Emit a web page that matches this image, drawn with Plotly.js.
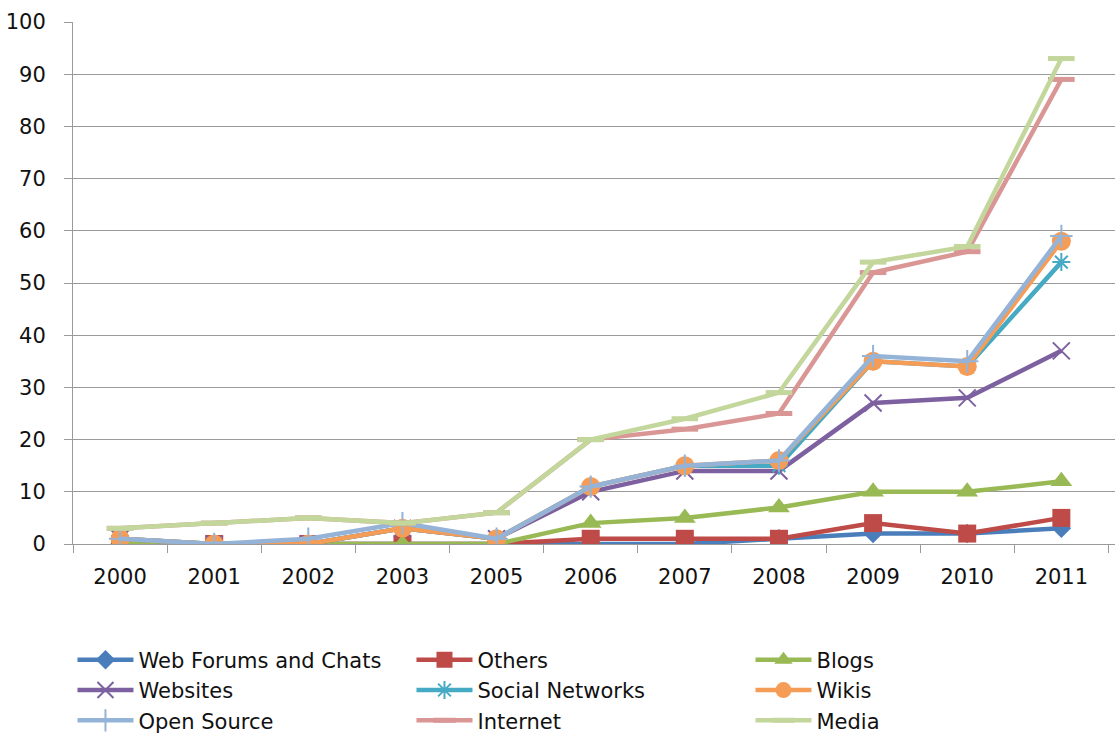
<!DOCTYPE html>
<html><head><meta charset="utf-8">
<script src="https://cdn.plot.ly/plotly-3.0.1.min.js"></script>
<style>body{margin:0;background:#fff}#c{width:1115px;height:736px}</style>
</head><body><div id="c"></div>
<script>
const years = ["2000","2001","2002","2003","2005","2006","2007","2008","2009","2010","2011"];
const webForums = [0,0,0,0,0,0,0,1,2,2,3];
const others = [0,0,0,0,0,1,1,1,4,2,5];
const blogs = [0,0,0,0,0,4,5,7,10,10,12];
const websites = [1,0,0,3,1,10,14,14,27,28,37];
const socialNetworks = [1,0,0,3,1,11,15,15,35,34,54];
const wikis = [1,0,0,3,1,11,15,16,35,34,58];
const openSource = [1,0,1,4,1,11,15,16,36,35,59];
const internet = [3,4,5,4,6,20,22,25,52,56,89];
const media = [3,4,5,4,6,20,24,29,54,57,93];

function tr(name, y, color, symbol, size, mline){
  const m = {symbol: symbol, size: size, color: color};
  if (mline) m.line = {color: color, width: mline};
  return {type:'scatter', mode:'lines+markers', name: name, x: years, y: y,
          line:{color: color, width: 4.5}, marker: m};
}
const data = [
  tr("Web Forums and Chats", webForums, "#4A7EBB", "diamond", 15),
  tr("Others", others, "#BE4B48", "square", 18),
  tr("Blogs", blogs, "#98B954", "triangle-up", 19),
  tr("Websites", websites, "#7D60A0", "x-thin-open", 17, 2),
  tr("Social Networks", socialNetworks, "#46AAC5", "asterisk-open", 15, 2),
  tr("Wikis", wikis, "#F59D56", "circle", 19),
  tr("Open Source", openSource, "#95B3D7", "cross-thin-open", 16, 2),
  tr("Internet", internet, "#D99694", "line-ew-open", 19, 5),
  tr("Media", media, "#C3D69B", "line-ew-open", 19, 5)
];
const font = {family: "'DejaVu Sans', sans-serif", size: 21, color: "#111"};
const layout = {
  width: 1115, height: 736,
  margin: {l: 73, r: 0, t: 22, b: 192},
  paper_bgcolor: "#fff", plot_bgcolor: "#fff",
  font: font,
  showlegend: true,
  xaxis: {type: 'category', range: [-0.5, 10.57], showgrid: false, zeroline: false,
          showline: true, linecolor: "#9a9a9a", linewidth: 1,
          ticks: "outside", tickson: "boundaries", ticklen: 8, tickcolor: "#9a9a9a",
          ticklabelstandoff: 14, tickfont: font, fixedrange: true},
  yaxis: {range: [0, 100], dtick: 10, showgrid: true, gridcolor: "#9a9a9a", gridwidth: 1,
          zeroline: false, showline: true, linecolor: "#9a9a9a", linewidth: 1,
          ticks: "outside", ticklen: 8, tickcolor: "#9a9a9a", tickfont: font,
          ticklabelstandoff: 14},
  legend: {orientation: 'h', xref: 'container', yref: 'container', x: 0.065, y: 0.131,
           xanchor: 'left', yanchor: 'top', entrywidth: 268, entrywidthmode: 'pixels',
           itemwidth: 56, font: font, traceorder: 'normal', bgcolor: 'rgba(0,0,0,0)'}
};
Plotly.newPlot('c', data, layout, {displayModeBar: false, staticPlot: true});
</script></body></html>
